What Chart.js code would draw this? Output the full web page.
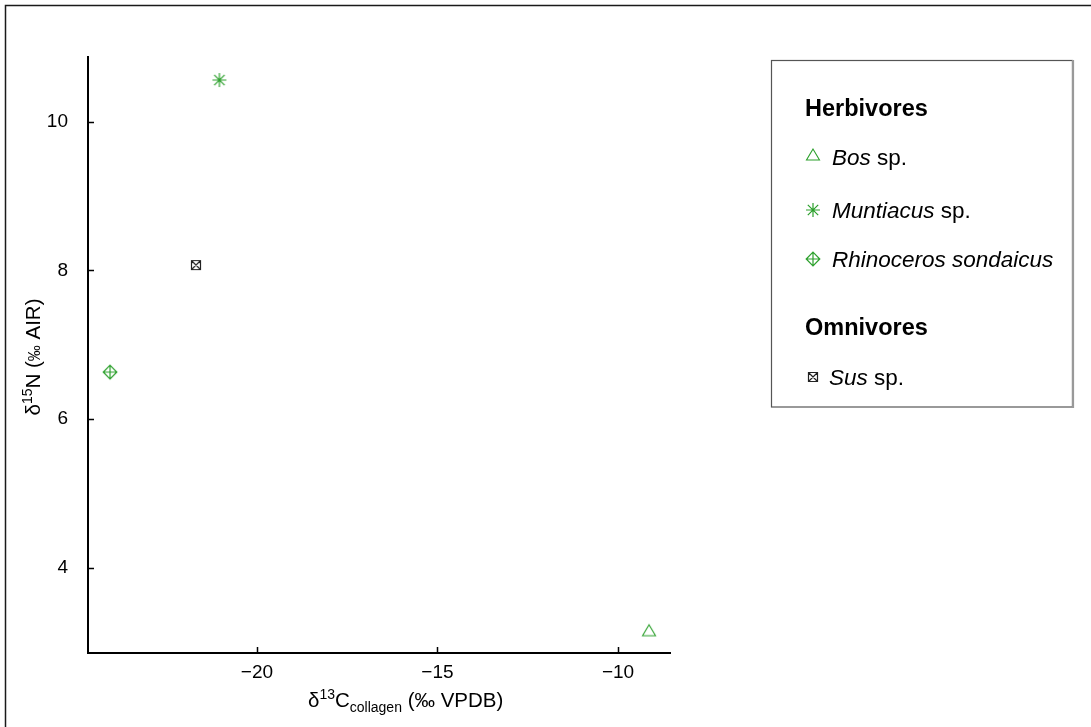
<!DOCTYPE html>
<html>
<head>
<meta charset="utf-8">
<script src="https://cdn.jsdelivr.net/npm/chart.js@4/dist/chart.umd.min.js"></script>
<style>
  html, body { margin: 0; padding: 0; background: #fff; }
  #wrap { width: 1091px; height: 727px; position: relative; }
</style>
</head>
<body>
<div id="wrap"><canvas id="c" width="1091" height="727"></canvas></div>
<script>
// Stable isotope values per taxon
const species = ['Bos sp.', 'Muntiacus sp.', 'Rhinoceros sondaicus', 'Sus sp.'];
const d13C = [-9.14, -21.04, -24.07, -21.69];
const d15N = [3.15, 10.56, 6.63, 8.07];
const xTicks = [-20, -15, -10];
const yTicks = [4, 6, 8, 10];

const GREEN = '#2ca02c';
const DARK = '#222222';
const FONT = '"Liberation Sans", Arial, sans-serif';

// Marker glyphs drawn on small canvases, used both for points and legend
function makeMarker(kind) {
  const c = document.createElement('canvas');
  c.width = 20; c.height = 20;
  const g = c.getContext('2d');
  const cx = 10, cy = 10;
  g.lineCap = 'butt';
  if (kind === 'triangle') {
    g.strokeStyle = GREEN; g.lineWidth = 1.1;
    g.beginPath();
    g.moveTo(cx, cy - 6); g.lineTo(cx - 6.5, cy + 5); g.lineTo(cx + 6.5, cy + 5); g.closePath();
    g.stroke();
  } else if (kind === 'asterisk') {
    g.strokeStyle = GREEN; g.lineWidth = 1.2;
    const r = 7, d = 5.2;
    g.beginPath();
    g.moveTo(cx, cy - r); g.lineTo(cx, cy + r);
    g.moveTo(cx - r, cy); g.lineTo(cx + r, cy);
    g.moveTo(cx - d, cy - d); g.lineTo(cx + d, cy + d);
    g.moveTo(cx - d, cy + d); g.lineTo(cx + d, cy - d);
    g.stroke();
  } else if (kind === 'diamondplus') {
    g.strokeStyle = GREEN; g.lineWidth = 1.2;
    const r = 6.8;
    g.beginPath();
    g.moveTo(cx, cy - r); g.lineTo(cx + r, cy); g.lineTo(cx, cy + r); g.lineTo(cx - r, cy); g.closePath();
    g.moveTo(cx, cy - r); g.lineTo(cx, cy + r);
    g.moveTo(cx - r, cy); g.lineTo(cx + r, cy);
    g.stroke();
  } else if (kind === 'squarex') {
    g.strokeStyle = DARK; g.lineWidth = 1.2;
    const h = 4.5;
    g.beginPath();
    g.rect(cx - h, cy - h, 2 * h, 2 * h);
    g.moveTo(cx - h, cy - h); g.lineTo(cx + h, cy + h);
    g.moveTo(cx - h, cy + h); g.lineTo(cx + h, cy - h);
    g.stroke();
  }
  return c;
}

const markerKinds = ['triangle', 'asterisk', 'diamondplus', 'squarex'];
const markers = markerKinds.map(makeMarker);

const datasets = species.map((name, i) => ({
  label: name,
  data: [{ x: d13C[i], y: d15N[i] }],
  pointStyle: markers[i],
  pointRadius: 8,
  pointHoverRadius: 8
}));

// Draw a run of text pieces: [text, size, weight/style, baseline offset]
function drawRuns(ctx, runs, x, y) {
  let cx = x;
  for (const [t, size, style, dy] of runs) {
    ctx.font = `${style} ${size}px ${FONT}`;
    ctx.fillText(t, cx, y + dy);
    cx += ctx.measureText(t).width;
  }
  return cx - x;
}
function measureRuns(ctx, runs) {
  let w = 0;
  for (const [t, size, style] of runs) {
    ctx.font = `${style} ${size}px ${FONT}`;
    w += ctx.measureText(t).width;
  }
  return w;
}

const decorations = {
  id: 'decorations',
  afterDraw(chart) {
    const ctx = chart.ctx;
    const xs = chart.scales.x, ys = chart.scales.y;
    const area = chart.chartArea;
    ctx.save();

    // Outer figure frame
    ctx.strokeStyle = '#1a1a1a';
    ctx.lineWidth = 1.5;
    ctx.beginPath();
    ctx.moveTo(5.5, 727); ctx.lineTo(5.5, 5.5); ctx.lineTo(1091, 5.5);
    ctx.stroke();

    // Inward tick marks
    ctx.strokeStyle = '#000';
    ctx.lineWidth = 1.5;
    ctx.beginPath();
    for (const v of xTicks) {
      const px = Math.round(xs.getPixelForValue(v)) + 0.5;
      ctx.moveTo(px, area.bottom); ctx.lineTo(px, area.bottom - 6);
    }
    for (const v of yTicks) {
      const py = Math.round(ys.getPixelForValue(v)) + 0.5;
      ctx.moveTo(area.left, py); ctx.lineTo(area.left + 6, py);
    }
    ctx.stroke();

    // Axis titles
    ctx.fillStyle = '#000';
    ctx.textBaseline = 'alphabetic';
    ctx.textAlign = 'left';
    const xRuns = [['\u03b4', 20.5, 'normal', 0], ['13', 14, 'normal', -8], ['C', 20.5, 'normal', 0],
                   ['collagen', 14, 'normal', 5], [' (\u2030 VPDB)', 20.5, 'normal', 0]];
    drawRuns(ctx, xRuns, 308, 707);

    const yRuns = [['\u03b4', 20.5, 'normal', 0], ['15', 14, 'normal', -8], ['N (', 20.5, 'normal', 0],
                   ['\u2030', 16, 'normal', 0], [' AIR)', 20.5, 'normal', 0]];
    ctx.save();
    ctx.translate(40, 357);
    ctx.rotate(-Math.PI / 2);
    const yw = measureRuns(ctx, yRuns);
    drawRuns(ctx, yRuns, -yw / 2, 0);
    ctx.restore();

    // Legend box
    ctx.strokeStyle = '#555';
    ctx.lineWidth = 1.2;
    ctx.strokeRect(771.5, 60.5, 301, 346.5);
    ctx.strokeStyle = '#999';
    ctx.lineWidth = 2.2;
    ctx.beginPath();
    ctx.moveTo(1073, 60); ctx.lineTo(1073, 408);
    ctx.stroke();

    ctx.fillStyle = '#000';
    ctx.font = `bold 23.5px ${FONT}`;
    ctx.fillText('Herbivores', 805, 116);
    ctx.fillText('Omnivores', 805, 335);

    const legendRows = [
      { i: 0, y: 165, my: 155, runs: [['Bos', 22.5, 'italic', 0], [' sp.', 22.5, 'normal', 0]] },
      { i: 1, y: 218, my: 210, runs: [['Muntiacus', 22.5, 'italic', 0], [' sp.', 22.5, 'normal', 0]] },
      { i: 2, y: 267, my: 259, runs: [['Rhinoceros sondaicus', 22.5, 'italic', 0]] },
      { i: 3, y: 385, my: 377, runs: [['Sus', 22.5, 'italic', 0], [' sp.', 22.5, 'normal', 0]] }
    ];
    for (const row of legendRows) {
      const m = markers[row.i];
      ctx.drawImage(m, 813 - m.width / 2, row.my - m.height / 2);
      ctx.fillStyle = '#000';
      drawRuns(ctx, row.runs, row.i === 3 ? 829 : 832, row.y);
    }
    ctx.restore();
  }
};

const minus = v => String(v).replace('-', '\u2212');

new Chart(document.getElementById('c'), {
  type: 'scatter',
  data: { datasets },
  options: {
    responsive: false,
    devicePixelRatio: 1,
    animation: false,
    layout: { padding: { left: 8, right: 421, top: 57, bottom: 34 } },
    plugins: { legend: { display: false }, tooltip: { enabled: false } },
    scales: {
      x: {
        type: 'linear',
        min: -24.68, max: -8.56,
        afterFit(s) { s.height = 40; },
        afterBuildTicks(s) { s.ticks = xTicks.map(v => ({ value: v })); },
        grid: { display: false },
        border: { display: true, color: '#000', width: 2 },
        ticks: { color: '#000', font: { family: FONT, size: 19 }, padding: 0, maxRotation: 0, callback: minus }
      },
      y: {
        type: 'linear',
        min: 2.85, max: 10.87,
        afterFit(s) { s.width = 80; },
        afterBuildTicks(s) { s.ticks = yTicks.map(v => ({ value: v })); },
        grid: { display: false },
        border: { display: true, color: '#000', width: 2 },
        ticks: { color: '#000', font: { family: FONT, size: 19 }, padding: 12, callback: minus }
      }
    }
  },
  plugins: [decorations]
});
</script>
</body>
</html>
